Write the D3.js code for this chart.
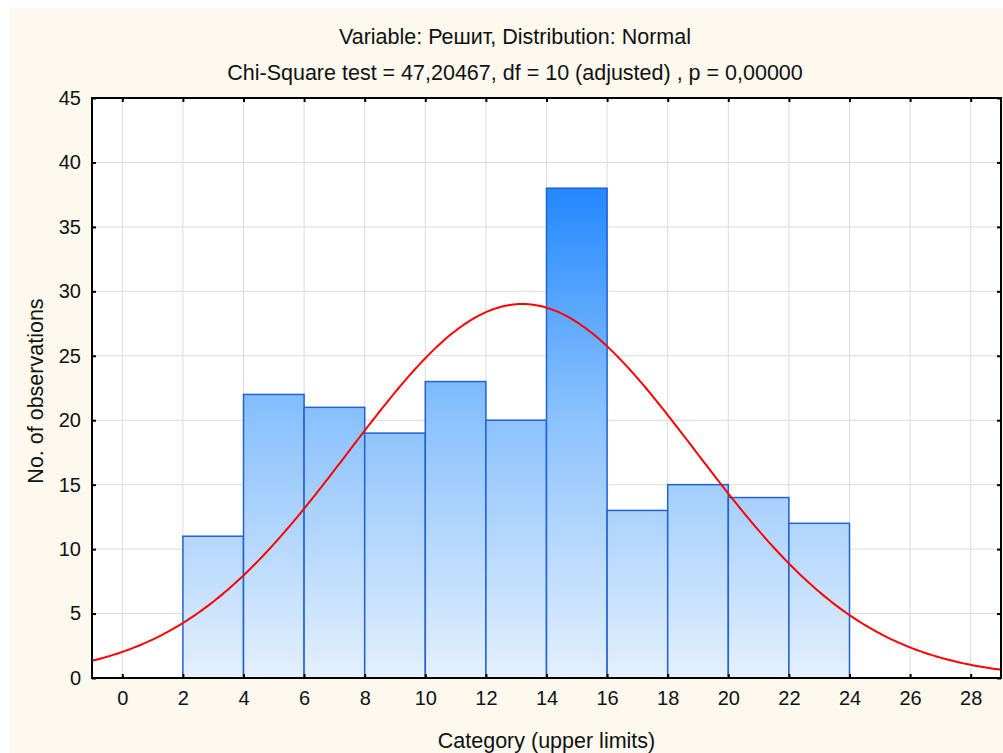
<!DOCTYPE html>
<html>
<head>
<meta charset="utf-8">
<script src="https://cdn.jsdelivr.net/npm/d3@7"></script>
<style>
  body { margin: 0; background: #ffffff; }
  text { font-family: "Liberation Sans", Arial, sans-serif; fill: #111; }
</style>
</head>
<body>
<div id="chart"></div>
<script>
// ── Data ─────────────────────────────────────────────────────────
const binStarts = [0, 2, 4, 6, 8, 10, 12, 14, 16, 18, 20, 22];
const binCounts = [0, 11, 22, 21, 19, 23, 20, 38, 13, 15, 14, 12];
const binWidth = 2;
const xTicks = [0, 2, 4, 6, 8, 10, 12, 14, 16, 18, 20, 22, 24, 26, 28];
const yTicks = [0, 5, 10, 15, 20, 25, 30, 35, 40, 45];
// fitted normal curve parameters
const fitMean = 13.2;
const fitSd = 5.72;
const fitN = 208;

const titleLines = [
    "Variable: Решит, Distribution: Normal",
    "Chi-Square test = 47,20467, df = 10 (adjusted) , p = 0,00000"
];

// ── Layout ───────────────────────────────────────────────────────
const width = 1003, height = 753;
const margin = { left: 92, top: 98, right: 2, bottom: 75 };
const innerWidth = width - margin.left - margin.right;
const innerHeight = height - margin.top - margin.bottom;

const svg = d3.select("#chart")
    .append("svg")
    .attr("width", width)
    .attr("height", height);

svg.append("rect")
    .attr("x", 10).attr("y", 8)
    .attr("width", width - 10).attr("height", height - 8)
    .attr("fill", "#fdf9ef");

const inner = svg.append("g")
    .attr("transform", `translate(${margin.left},${margin.top})`);

const x = d3.scaleLinear().domain([-1, 29]).range([0, innerWidth]);
const y = d3.scaleLinear().domain([0, 45]).range([innerHeight, 0]);

inner.append("rect")
    .attr("width", innerWidth).attr("height", innerHeight)
    .attr("fill", "#ffffff");

// gradient over the full plot height
const grad = svg.append("defs").append("linearGradient")
    .attr("id", "barGrad")
    .attr("gradientUnits", "userSpaceOnUse")
    .attr("x1", 0).attr("x2", 0)
    .attr("y1", y(0)).attr("y2", y(38));
grad.append("stop").attr("offset", "0%").attr("stop-color", "#e4f0fd");
grad.append("stop").attr("offset", "55%").attr("stop-color", "#88c0fd");
grad.append("stop").attr("offset", "100%").attr("stop-color", "#2388ff");

// grid
inner.selectAll(".vgrid")
    .data(xTicks)
    .join("line")
    .attr("x1", d => x(d)).attr("x2", d => x(d))
    .attr("y1", 0).attr("y2", innerHeight)
    .attr("stroke", "#dcdcdc").attr("stroke-width", 1);

inner.selectAll(".hgrid")
    .data(yTicks)
    .join("line")
    .attr("x1", 0).attr("x2", innerWidth)
    .attr("y1", d => y(d)).attr("y2", d => y(d))
    .attr("stroke", "#dcdcdc").attr("stroke-width", 1);

// bars
inner.selectAll(".bar")
    .data(binStarts.map((s, i) => ({ x0: s, x1: s + binWidth, n: binCounts[i] })))
    .join("rect")
    .attr("x", d => x(d.x0))
    .attr("y", d => y(d.n))
    .attr("width", d => x(d.x1) - x(d.x0))
    .attr("height", d => y(0) - y(d.n))
    .attr("fill", "url(#barGrad)")
    .attr("stroke", "#1f62d6")
    .attr("stroke-width", 1.5);

// normal curve
const normal = v => fitN * binWidth / (fitSd * Math.sqrt(2 * Math.PI)) *
    Math.exp(-((v - fitMean) ** 2) / (2 * fitSd * fitSd));
const curveX = d3.range(-1, 29.01, 0.1);
inner.append("path")
    .datum(curveX)
    .attr("fill", "none")
    .attr("stroke", "#ff0000")
    .attr("stroke-width", 2)
    .attr("d", d3.line().x(d => x(d)).y(d => y(normal(d))));

// frame + inward ticks
inner.append("rect")
    .attr("width", innerWidth).attr("height", innerHeight)
    .attr("fill", "none").attr("stroke", "#000").attr("stroke-width", 2);

const bottomAxis = d3.axisBottom(x).tickValues(xTicks).tickSize(-4).tickPadding(13);
inner.append("g")
    .attr("transform", `translate(0,${innerHeight})`)
    .call(bottomAxis)
    .call(g => g.select(".domain").remove())
    .call(g => g.selectAll("line").attr("stroke-width", 2))
    .call(g => g.selectAll("text").attr("font-size", 20).attr("fill", "#111"));

const topAxis = d3.axisTop(x).tickValues(xTicks).tickSize(-4).tickFormat("");
inner.append("g")
    .call(topAxis)
    .call(g => g.select(".domain").remove())
    .call(g => g.selectAll("line").attr("stroke-width", 2));

const leftAxis = d3.axisLeft(y).tickValues(yTicks).tickSize(-4).tickPadding(11);
inner.append("g")
    .call(leftAxis)
    .call(g => g.select(".domain").remove())
    .call(g => g.selectAll("line").attr("stroke-width", 2))
    .call(g => g.selectAll("text").attr("font-size", 20).attr("fill", "#111"));

const rightAxis = d3.axisRight(y).tickValues(yTicks).tickSize(-4).tickFormat("");
inner.append("g")
    .attr("transform", `translate(${innerWidth},0)`)
    .call(rightAxis)
    .call(g => g.select(".domain").remove())
    .call(g => g.selectAll("line").attr("stroke-width", 2));

// titles
svg.selectAll(".title")
    .data(titleLines)
    .join("text")
    .text(d => d)
    .attr("x", 515)
    .attr("y", (d, i) => 44 + i * 36)
    .attr("text-anchor", "middle")
    .attr("font-size", 21.5);

svg.append("text")
    .text("Category (upper limits)")
    .attr("x", margin.left + innerWidth / 2)
    .attr("y", 748)
    .attr("text-anchor", "middle")
    .attr("font-size", 21.5);

svg.append("text")
    .text("No. of observations")
    .attr("transform", `translate(43,${margin.top + innerHeight / 2 + 3}) rotate(-90)`)
    .attr("text-anchor", "middle")
    .attr("font-size", 21.5);
</script>
</body>
</html>
